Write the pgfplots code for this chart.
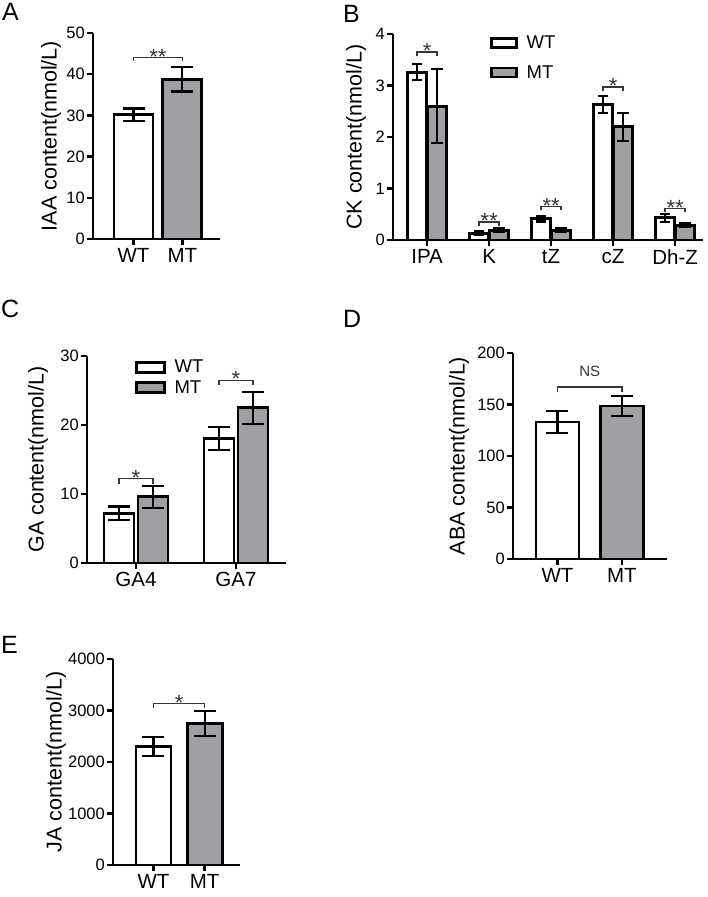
\documentclass[border=0pt]{standalone}
\usepackage{fontspec}
\setmainfont{Liberation Sans}
\usepackage{pgfplots}
\pgfplotsset{compat=1.18}
\definecolor{mtgray}{RGB}{160,160,164}
\definecolor{brk}{RGB}{55,55,55}
\newcommand{\fs}[1]{\fontsize{#1}{#1}\selectfont}
\pgfplotsset{
  panel/.style={
    scale only axis, axis lines=left,
    axis line style={line width=2.4pt,-},
    every tick/.style={black,line width=2.4pt},
    tick align=outside, major tick length=6pt,
    ymin=0, clip=false, anchor=south west,
    /pgf/number format/assume math mode=true,
    /pgf/number format/1000 sep={},
    yticklabel style={font=\fs{16.5}, inner sep=2pt},
    xticklabel style={font=\fs{20.5}, inner sep=3pt},
    ylabel style={font=\fs{21.5}, at={(axis description cs:#1,0.5)}, anchor=center},
  },
  bars/.style n args={3}{ybar, bar width=#1, bar shift=0pt, fill=#2, draw=black, line width=2.8pt,
     error bars/.cd, y dir=both, y explicit,
     error bar style={line width=2.2pt,black},
     error mark options={rotate=90,line width=2.2pt,black,mark size=#3}},
  legbox/.style n args={3}{legend image code/.code={\path[draw=none,fill=none] (0pt,0pt) -- (#3,0pt);\draw[line width=2.8pt,fill=#1,draw=black] (0pt,-#2) rectangle (#3-9pt,#2);}},
}
\newcommand{\sig}[5]{\draw[brk,line width=1.3pt] (axis cs:#1,#4) |- (axis cs:#2,#3) -- (axis cs:#2,#4);
  \node[font=\fs{22},anchor=base,yshift=-6.5pt,text=brk,inner sep=0pt] at (axis cs:{(#1+#2)/2},#3) {#5};}
\begin{document}
\begin{tikzpicture}[x=1pt,y=1pt]
\useasboundingbox (0,0) rectangle (708,-897);
% panel letters
\node[font=\fs{25},anchor=base west,inner sep=0] at (2,-20) {A};
\node[font=\fs{25},anchor=base west,inner sep=0] at (343,-22) {B};
\node[font=\fs{25},anchor=base west,inner sep=0] at (1,-317) {C};
\node[font=\fs{25},anchor=base west,inner sep=0] at (343,-327) {D};
\node[font=\fs{25},anchor=base west,inner sep=0] at (1,-653) {E};

% ---------- A ----------
\begin{axis}[panel=-0.331, at={(93pt,-239pt)}, width=127pt, height=206pt,
  xmin=-0.83, xmax=1.77, ymax=50, ytick={0,10,...,50},
  xtick={0,1}, xticklabels={WT,MT}, ylabel={IAA content(nmol/L)}]
\addplot[bars={39pt}{white}{11pt}] coordinates {(0,30.2) +- (0,1.5)};
\addplot[bars={39pt}{mtgray}{11pt}] coordinates {(1,38.8) +- (0,3.0)};
\sig{0}{1}{44}{43.1}{**}
\end{axis}

% ---------- B ----------
\begin{axis}[panel=-0.119, at={(393pt,-240pt)}, width=310pt, height=206pt,
  xmin=-0.55, xmax=4.45, ymax=4, ytick={0,1,...,4},
  xtick={0,1,2,3,4}, xticklabels={IPA,K,tZ,cZ,Dh-Z}, ylabel={CK content(nmol/L)},
  legend style={at={(axis description cs:0.313,0.995)}, anchor=north west, draw=none, fill=none,
    inner sep=0pt, font=\fs{18.5}, row sep=13pt, cells={anchor=west}, nodes={inner sep=1pt}}]
\addplot[forget plot, bars={19.5pt}{white}{5pt}] coordinates {
 (-0.161,3.26) +- (0,0.15) (0.839,0.13) +- (0,0.04) (1.839,0.41) +- (0,0.05) (2.839,2.63) +- (0,0.17) (3.839,0.43) +- (0,0.08)};
\addplot[forget plot, bars={19.5pt}{mtgray}{6pt}] coordinates {
 (0.161,2.60) +- (0,0.72) (1.161,0.19) +- (0,0.035) (2.161,0.19) +- (0,0.04) (3.161,2.20) +- (0,0.27) (4.161,0.285) +- (0,0.04)};
\addlegendimage{legbox={white}{4.5pt}{34pt}}\addlegendentry{WT}
\addlegendimage{legbox={mtgray}{4.5pt}{34pt}}\addlegendentry{MT}
\sig{-0.161}{0.161}{3.65}{3.57}{*}
\sig{0.839}{1.161}{0.35}{0.28}{**}
\sig{1.839}{2.161}{0.65}{0.58}{**}
\sig{2.839}{3.161}{2.97}{2.89}{*}
\sig{3.839}{4.161}{0.61}{0.54}{**}
\end{axis}

% ---------- C ----------
\begin{axis}[panel=-0.246, at={(87pt,-563pt)}, width=199pt, height=207pt,
  xmin=-0.49, xmax=1.5, ymax=30, ytick={0,10,20,30},
  xtick={0,1}, xticklabels={GA4,GA7}, ylabel={GA content(nmol/L)},
  legend style={at={(axis description cs:0.241,0.986)}, anchor=north west, draw=none, fill=none,
    inner sep=0pt, font=\fs{18.5}, row sep=4pt, cells={anchor=west}, nodes={inner sep=1pt}}]
\addplot[forget plot, bars={30pt}{white}{11pt}] coordinates {(-0.17,7.2) +- (0,1.0) (0.83,18.05) +- (0,1.7)};
\addplot[forget plot, bars={30pt}{mtgray}{11pt}] coordinates {(0.17,9.6) +- (0,1.6) (1.17,22.5) +- (0,2.3)};
\addlegendimage{legbox={white}{5pt}{37pt}}\addlegendentry{WT}
\addlegendimage{legbox={mtgray}{5pt}{37pt}}\addlegendentry{MT}
\sig{-0.17}{0.17}{12.2}{11.5}{*}
\sig{0.83}{1.17}{26.5}{25.8}{*}
\end{axis}

% ---------- D ----------
\begin{axis}[panel=-0.351, at={(513pt,-559pt)}, width=154pt, height=206pt,
  xmin=-0.69, xmax=1.70, ymax=200, ytick={0,50,...,200},
  xtick={0,1}, xticklabels={WT,MT}, ylabel={ABA content(nmol/L)}]
\addplot[bars={43pt}{white}{11pt}] coordinates {(0,133) +- (0,11)};
\addplot[bars={43pt}{mtgray}{11pt}] coordinates {(1,148.5) +- (0,10)};
\draw[brk,line width=1.3pt] (axis cs:0,162) |- (axis cs:1,167) -- (axis cs:1,162);
\node[font=\fs{15},anchor=base,yshift=10pt,text=brk] at (axis cs:0.5,167) {NS};
\end{axis}

% ---------- E ----------
\begin{axis}[panel=-0.449, at={(113pt,-865pt)}, width=127pt, height=206pt,
  xmin=-0.79, xmax=1.69, ymax=4000, ytick={0,1000,...,4000},
  xtick={0,1}, xticklabels={WT,MT}, ylabel={JA content(nmol/L)}]
\addplot[bars={35pt}{white}{11pt}] coordinates {(0,2300) +- (0,185)};
\addplot[bars={35pt}{mtgray}{11pt}] coordinates {(1,2750) +- (0,245)};
\sig{0}{1}{3130}{3050}{*}
\end{axis}
\end{tikzpicture}
\end{document}
